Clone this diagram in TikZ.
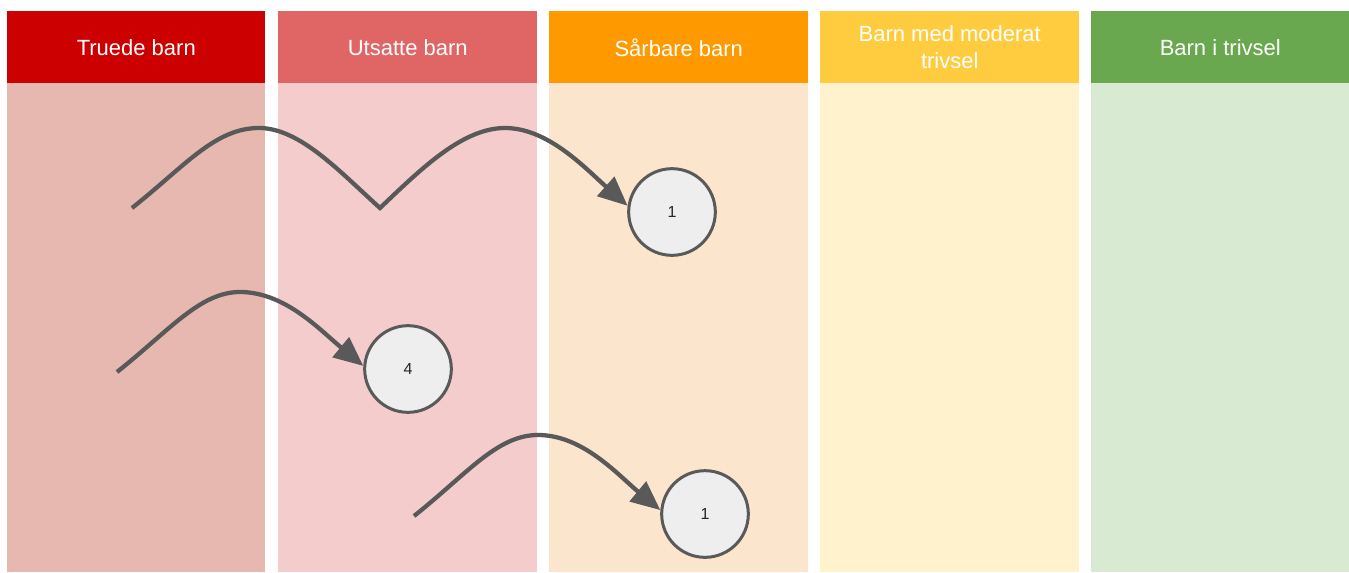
\documentclass[tikz,border=0pt]{standalone}
\usepackage{fontspec}
\setmainfont{Liberation Sans}
\usetikzlibrary{arrows.meta}

\definecolor{redH}{HTML}{CC0000}
\definecolor{redB}{HTML}{E6B8AF}
\definecolor{pinkH}{HTML}{E06666}
\definecolor{pinkB}{HTML}{F4CCCC}
\definecolor{orangeH}{HTML}{FF9900}
\definecolor{orangeB}{HTML}{FCE5CD}
\definecolor{yellowH}{HTML}{FFCC3F}
\definecolor{yellowB}{HTML}{FFF2CC}
\definecolor{greenH}{HTML}{6AA84F}
\definecolor{greenB}{HTML}{D9EAD3}
\definecolor{lineGray}{HTML}{595959}
\definecolor{dotFill}{HTML}{EEEEEE}

\tikzset{
  header/.style={anchor=north west, inner sep=0pt, minimum height=54pt,
    text=white, align=center, font=\fontsize{16.5}{20}\selectfont},
  count/.style={circle, draw=lineGray, line width=2.25pt, fill=dotFill,
    minimum size=65pt, inner sep=0pt, font=\fontsize{12}{14}\selectfont, text=black!85},
  move/.style={draw=lineGray, line width=3.2pt, line join=miter,
    -{Triangle[length=22pt,width=19pt]}}
}

\begin{document}
\begin{tikzpicture}[x=0.75pt,y=-0.75pt]
\useasboundingbox (0,0) rectangle (1349,572);
\fill[white] (0,0) rectangle (1349,572);

% column bodies
\fill[redB]    (7,83)    rectangle (265,572);
\fill[pinkB]   (278,83)  rectangle (537,572);
\fill[orangeB] (549,83)  rectangle (808,572);
\fill[yellowB] (820,83)  rectangle (1079,572);
\fill[greenB]  (1091,83) rectangle (1349,572);

% column headers
\node[header, fill=redH,    minimum width=193.5pt]  (h1) at (7,11)    {Truede barn};
\node[header, fill=pinkH,   minimum width=194.25pt] (h2) at (278,11)  {Utsatte barn};
\node[header, fill=orangeH, minimum width=194.25pt] (h3) at (549,11)  {Sårbare barn};
\node[header, fill=yellowH, minimum width=194.25pt] (h4) at (820,11)  {Barn med moderat\\trivsel};
\node[header, fill=greenH,  minimum width=193.5pt]  (h5) at (1091,11) {Barn i trivsel};

% counts
\node[count] (a) at (672,212) {1};
\node[count] (b) at (408,369) {4};
\node[count] (c) at (705,514) {1};

% movement paths
\coordinate (s1) at (132,208);
\coordinate (k1) at (380,208);
\coordinate (s2) at (117,372);
\coordinate (s3) at (414,516);

\draw[move] (s1) .. controls (185,166) and (215,128) .. (259,128)
                 .. controls (300,128) and (340,172) .. (k1)
                 .. controls (420,170) and (462,128) .. (505,128)
                 .. controls (548,128) and (585,168) .. (a.172);
\draw[move] (s2) .. controls (170,330) and (200,292) .. (240,292)
                 .. controls (285,292) and (320,330) .. (b.176);
\draw[move] (s3) .. controls (467,474) and (497,435) .. (538,435)
                 .. controls (583,435) and (618,475) .. (c.175);
\end{tikzpicture}
\end{document}
